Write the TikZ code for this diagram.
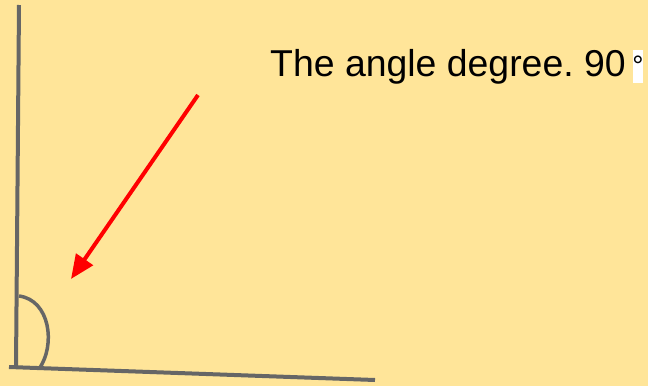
\documentclass[tikz,border=0pt]{standalone}
\usepackage{fontspec}
\setmainfont{Liberation Sans}
\usepackage{tikz}
\usetikzlibrary{arrows.meta, positioning}

\begin{document}
\frenchspacing
\begin{tikzpicture}[x=1pt, y=-1pt, every node/.style={align=center},
    side/.style={draw=sidegray, line width=4pt},
    pointer/.style={draw=red, line width=4pt, -{Triangle[length=24pt, width=20pt]}}]
      \definecolor{paper}{HTML}{FFE599} \definecolor{sidegray}{HTML}{666666}
      \fill[paper] (0, 0) rectangle (648, 386);
      \coordinate (top) at (19, 5);
      \coordinate (corner) at (16, 367);
      \coordinate (left) at (9, 367);
      \coordinate (right) at (375, 380);
      \coordinate (arcstart) at (19, 296);
      \coordinate (arcend) at (39, 369);
      \draw[side] (top) -- (corner);
      \draw[side] (left) -- (right);
      \draw[side, line width=3.5pt] (arcstart) .. controls (50, 300) and (56, 345) .. (arcend);
      \coordinate (tail) at (198, 95);
      \coordinate (tip) at (71, 279);
      \draw[pointer] (tail) -- (tip);
      \node[anchor=base west, inner sep=0pt, font=\fontsize{37.4}{40}\selectfont] (label) at (270, 76) {The angle degree. 90};
      \fill[white] (633, 50) rectangle (643, 83);
      \node[inner sep=0pt, font=\fontsize{28}{30}\selectfont] (deg) at (638, 66) {°};
    \end{tikzpicture}
\end{document}
